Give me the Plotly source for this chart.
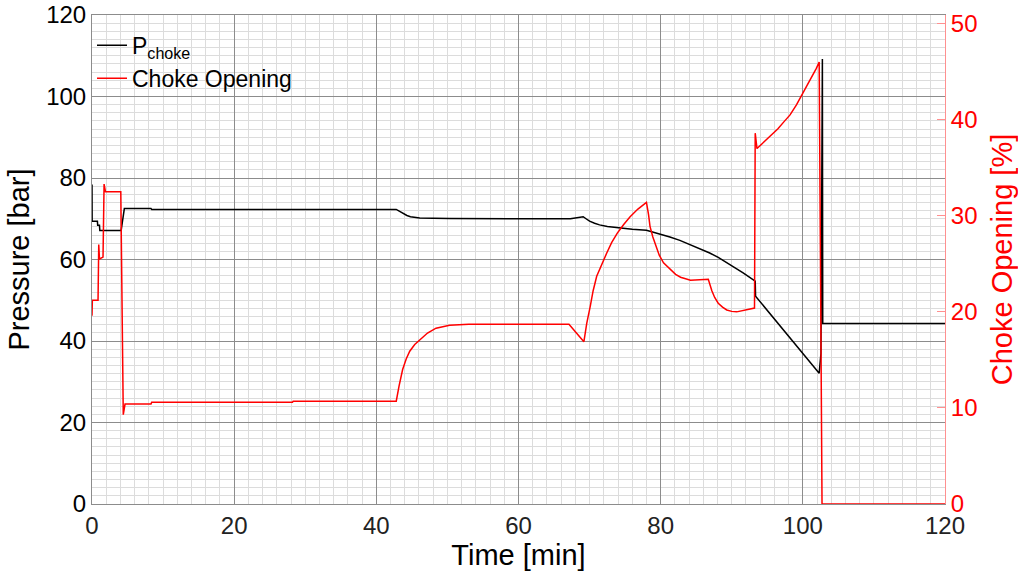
import plotly.graph_objects as go

# Pressure at choke [bar] vs time [min]
t_p = [0, 0.02, 0.76, 0.8, 1.05, 1.1, 4.1, 4.55, 8.3, 8.4, 42.8, 43.3, 43.8, 44.3, 44.8, 45.5, 46.1, 48.0, 50.3,
       67.3, 69.1, 69.5, 70.0, 70.7, 71.4, 72.5, 73.8, 76.0, 78.0, 79.9, 81.3, 82.7, 84.6, 86.9, 88.1, 89.3, 90.5, 91.6, 93.3,
       93.35, 102.3, 102.55, 102.75, 102.8, 120]
p_choke = [78.4, 69.4, 69.4, 68.4, 68.4, 67.1, 67.1, 72.5, 72.5, 72.3, 72.3, 71.8, 71.2, 70.8, 70.5, 70.3, 70.2, 70.1, 70.05,
           70.0, 70.5, 70.0, 69.4, 68.9, 68.5, 68.1, 67.8, 67.4, 67.2, 66.3, 65.5, 64.7, 63.3, 61.6, 60.5, 59.2, 58.0, 56.7, 54.7,
           51.0, 32.1, 37.0, 109.2, 44.3, 44.3]

# Choke opening [%] vs time [min]
t_o = [0, 0.05, 0.85, 0.95, 1.05, 1.55, 1.7, 1.9, 4.05, 4.4, 4.65, 8.3, 8.4, 28.2, 28.3, 42.8,
       43.2, 43.7, 44.2, 44.7, 45.4, 46.1, 47.2, 48.4, 50.3, 53.0, 67.1, 69.2,
       69.6, 70.1, 70.5, 71.0, 71.7, 72.4, 73.1, 73.9, 74.8, 75.7, 76.8, 78.0,
       78.3, 78.5, 78.9, 79.3, 79.8, 80.4, 81.4, 82.1, 82.8, 84.2, 86.7,
       86.9, 87.2, 87.6, 88.1, 88.7, 89.3, 90.0, 90.7, 93.2, 93.3, 93.55,
       94.2, 94.9, 95.8, 96.5, 97.3, 98.2, 99.1, 100.06, 100.7, 101.4, 101.9, 102.3, 102.7, 120]
opening = [19.6, 21.2, 21.2, 27.0, 25.5, 25.7, 33.3, 32.5, 32.5, 9.3, 10.4, 10.4, 10.6, 10.6, 10.7, 10.7,
           12.3, 14.0, 15.1, 15.9, 16.6, 17.1, 17.8, 18.3, 18.6, 18.7, 18.72, 16.9,
           18.8, 20.6, 22.2, 23.7, 25.0, 26.1, 27.2, 28.2, 29.1, 29.9, 30.7, 31.4,
           30.1, 28.9, 27.8, 26.9, 25.9, 25.1, 24.4, 23.9, 23.6, 23.3, 23.4,
           22.8, 22.2, 21.5, 20.9, 20.5, 20.2, 20.05, 20.0, 20.4, 38.6, 37.0,
           37.45, 37.95, 38.5, 39.05, 39.75, 40.5, 41.55, 42.8, 43.7, 44.7, 45.35, 46.0, 0, 0]

FONT = "Liberation Sans, Arial, Helvetica, sans-serif"

fig = go.Figure()
fig.add_trace(go.Scatter(x=t_p, y=p_choke, mode="lines", name="P<sub>choke</sub>",
                         line=dict(color="black", width=1.5)))
fig.add_trace(go.Scatter(x=t_o, y=opening, mode="lines", name="Choke Opening",
                         line=dict(color="red", width=1.5), yaxis="y2"))

fig.update_layout(
    width=1018, height=577,
    margin=dict(l=92, r=73, t=15, b=73, autoexpand=False),
    paper_bgcolor="white", plot_bgcolor="white",
    font=dict(family=FONT, size=24, color="black"),
    showlegend=True,
    legend=dict(x=0.0, y=0.982, xanchor="left", yanchor="top", bgcolor="rgba(0,0,0,0)",
                font=dict(size=23), tracegroupgap=0),
    xaxis=dict(range=[0, 120], dtick=20, tick0=0, showgrid=True, gridcolor="#8c8c8c", gridwidth=1,
               minor=dict(dtick=2, showgrid=True, gridcolor="#dcdcdc", gridwidth=1),
               showline=True, linecolor="#8c8c8c", linewidth=1, mirror=True,
               ticks="", zeroline=False, automargin=False,
               title=dict(text="Time [min]", font=dict(size=29), standoff=6),
               tickfont=dict(size=24, color="#222")),
    yaxis=dict(range=[0, 120], dtick=20, tick0=0, showgrid=True, gridcolor="#8c8c8c", gridwidth=1,
               minor=dict(dtick=2, showgrid=True, gridcolor="#dcdcdc", gridwidth=1),
               showline=True, linecolor="#8c8c8c", linewidth=1,
               ticks="", zeroline=False, automargin=False,
               title=dict(text="Pressure [bar]", font=dict(size=29), standoff=8),
               tickfont=dict(size=24, color="black")),
    yaxis2=dict(range=[0, 50.9], dtick=10, tick0=0, overlaying="y", side="right",
                showgrid=False, zeroline=False, automargin=False,
                showline=True, linecolor="#ff9090", linewidth=1,
                ticks="inside", ticklen=8, tickcolor="#ff9090",
                tickfont=dict(size=24, color="red"),
                title=dict(text="Choke Opening [%]", font=dict(size=29, color="red"), standoff=16)),
)

fig.write_html("out.html")
